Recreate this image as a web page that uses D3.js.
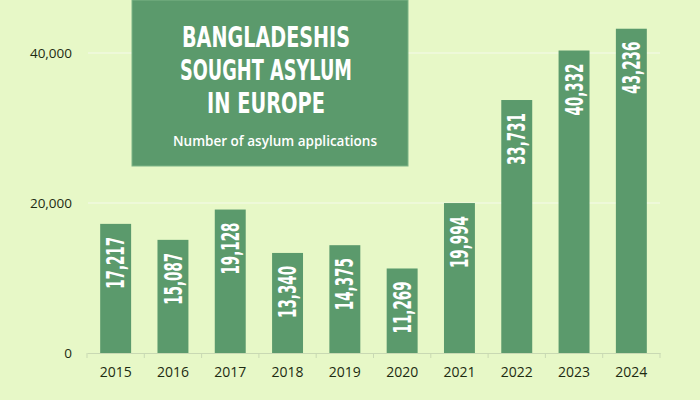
<!DOCTYPE html>
<html>
<head>
<meta charset="utf-8">
<script src="https://cdn.jsdelivr.net/npm/d3@7"></script>
<style>
  html, body { margin: 0; padding: 0; background: #e7f8c7; }
  svg { display: block; }
</style>
</head>
<body>
<svg id="chart" width="700" height="400"></svg>
<script>
const years = ["2015","2016","2017","2018","2019","2020","2021","2022","2023","2024"];
const applications = [17217, 15087, 19128, 13340, 14375, 11269, 19994, 33731, 40332, 43236];
const yTicks = [0, 20000, 40000];
const titleLines = ["BANGLADESHIS", "SOUGHT ASYLUM", "IN EUROPE"];
const subtitle = "Number of asylum applications";

const svg = d3.select("#chart");
const W = 700, H = 400;
const bg = "#e7f8c7", green = "#5b9a6c", ink = "#1d2b12";

svg.append("rect").attr("width", W).attr("height", H).attr("fill", bg);

const x = d3.scaleBand().domain(years).range([87, 660]).paddingInner(0.46).paddingOuter(0.23);
const y = d3.scaleLinear().domain([0, 40000]).range([353, 53]);

// gridlines
svg.append("g").selectAll("line").data(yTicks.filter(d => d > 0)).join("line")
  .attr("x1", 88).attr("x2", 660)
  .attr("y1", d => y(d)).attr("y2", d => y(d))
  .attr("stroke", "#f1fadf").attr("stroke-width", 1.5);

// y labels
svg.append("g").selectAll("text").data(yTicks).join("text")
  .attr("x", 72).attr("y", d => y(d)).attr("dy", "0.35em")
  .attr("text-anchor", "end")
  .attr("font-family", "'Open Sans', sans-serif").attr("font-size", 13.5)
  .attr("fill", ink)
  .text(d => d3.format(",")(d));

// bars
svg.append("g").selectAll("rect").data(applications).join("rect")
  .attr("x", (d, i) => x(years[i]))
  .attr("width", x.bandwidth())
  .attr("y", d => y(d))
  .attr("height", d => y(0) - y(d))
  .attr("fill", green);

// x axis
const xAxis = d3.axisBottom(x).tickSize(0).tickPadding(14);
const gx = svg.append("g").attr("transform", `translate(0,${y(0)})`).call(xAxis);
gx.select(".domain").attr("stroke", "#c9d9b3").attr("stroke-width", 1);
gx.selectAll("text").attr("font-family", "'Open Sans', sans-serif").attr("font-size", 14)
  .attr("fill", ink).attr("dy", "0.71em");
// boundary tick marks
const bounds = d3.range(years.length + 1).map(i => 87 + i * x.step());
svg.append("g").selectAll("line").data(bounds).join("line")
  .attr("x1", d => d).attr("x2", d => d)
  .attr("y1", y(0)).attr("y2", y(0) + 5)
  .attr("stroke", "#c9d9b3");

// value labels
svg.append("g").selectAll("text").data(applications).join("text")
  .attr("transform", (d, i) => `translate(${x(years[i]) + x.bandwidth() / 2},${y(d) + 13}) rotate(-90)`)
  .attr("text-anchor", "end")
  .attr("dy", "0.36em")
  .attr("font-family", "'DejaVu Sans Condensed', 'Liberation Sans Narrow', 'DejaVu Sans', sans-serif")
  .attr("font-weight", "bold").attr("font-size", 24)
  .attr("textLength", 52).attr("lengthAdjust", "spacingAndGlyphs")
  .attr("fill", "#ffffff")
  .text(d => d3.format(",")(d));

// title box
svg.append("rect").attr("x", 132).attr("y", 0).attr("width", 276).attr("height", 166)
  .attr("fill", green).attr("stroke", "#7cb486").attr("stroke-width", 1);

const tl = [168, 172, 118];
svg.append("g").selectAll("text").data(titleLines).join("text")
  .attr("x", 266).attr("y", (d, i) => 47 + i * 33)
  .attr("text-anchor", "middle")
  .attr("font-family", "'DejaVu Sans Condensed', 'Liberation Sans Narrow', 'DejaVu Sans', sans-serif")
  .attr("font-weight", "bold").attr("font-size", 28)
  .attr("textLength", (d, i) => tl[i]).attr("lengthAdjust", "spacingAndGlyphs")
  .attr("fill", "#ffffff")
  .text(d => d);

svg.append("text").attr("x", 275).attr("y", 146)
  .attr("text-anchor", "middle")
  .attr("font-family", "'Open Sans', sans-serif").attr("font-weight", 600).attr("font-size", 15)
  .attr("textLength", 204).attr("lengthAdjust", "spacingAndGlyphs")
  .attr("fill", "#ffffff")
  .text(subtitle);
</script>
</body>
</html>
